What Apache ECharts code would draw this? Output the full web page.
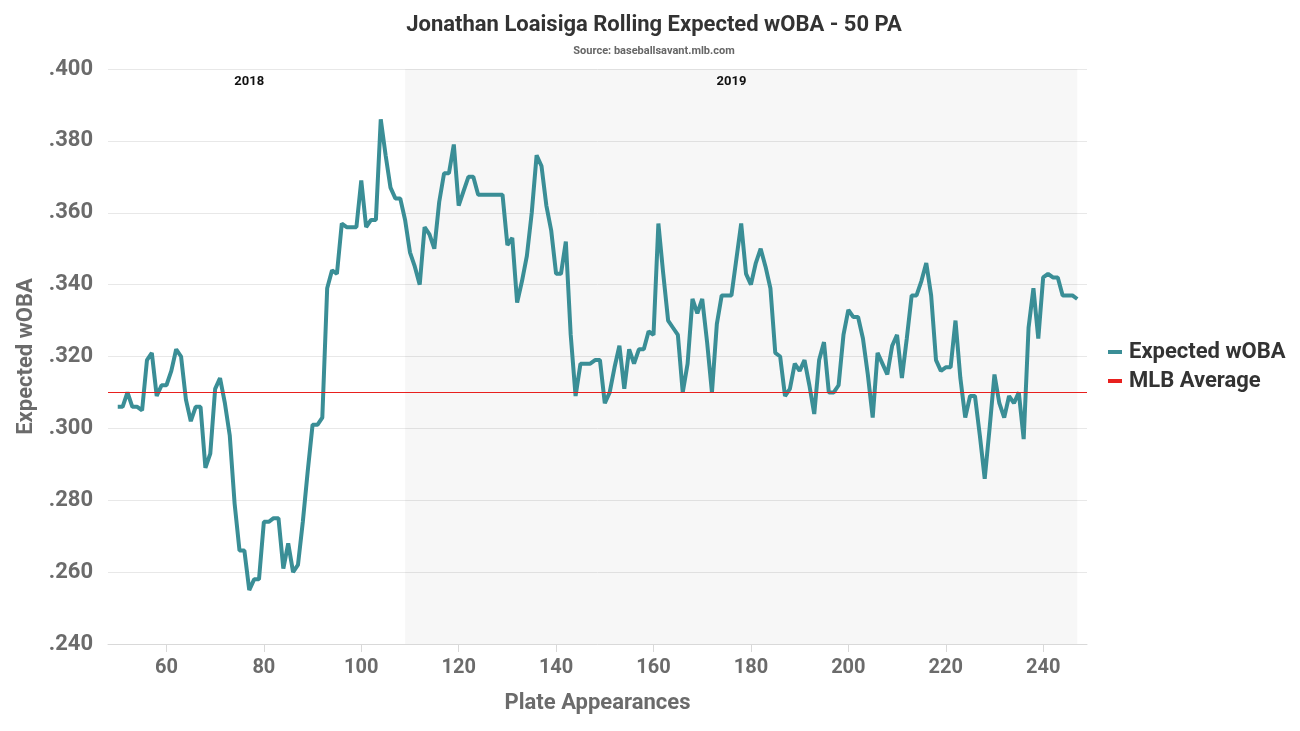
<!DOCTYPE html>
<html>
<head>
<meta charset="utf-8">
<script src="https://cdn.jsdelivr.net/npm/echarts@6/dist/echarts.min.js"></script>
<style>html,body{margin:0;padding:0;background:#fff}#c{width:1300px;height:731px}</style>
</head>
<body>
<div id="c"></div>
<script>
const plateAppearances = [];
for (let p = 50; p <= 247; p++) plateAppearances.push(p);
const expectedWoba = [
.306,.306,.310,.306,.306,.305,.319,.321,.309,.312,
.312,.316,.322,.320,.308,.302,.306,.306,.289,.293,
.311,.314,.307,.298,.279,.266,.266,.255,.258,.258,
.274,.274,.275,.275,.261,.268,.260,.262,.274,.288,
.301,.301,.303,.339,.344,.343,.357,.356,.356,.356,
.369,.356,.358,.358,.386,.376,.367,.364,.364,.358,
.349,.345,.340,.356,.354,.350,.363,.371,.371,.379,
.362,.366,.370,.370,.365,.365,.365,.365,.365,.365,
.351,.353,.335,.341,.348,.360,.376,.373,.362,.355,
.343,.343,.352,.326,.309,.318,.318,.318,.319,.319,
.307,.310,.317,.323,.311,.322,.318,.322,.322,.327,
.326,.357,.343,.330,.328,.326,.310,.318,.336,.332,
.336,.324,.310,.329,.337,.337,.337,.347,.357,.343,
.340,.346,.350,.345,.339,.321,.320,.309,.311,.318,
.316,.319,.312,.304,.319,.324,.310,.310,.312,.326,
.333,.331,.331,.325,.315,.303,.321,.318,.315,.323,
.326,.314,.325,.337,.337,.341,.346,.337,.319,.316,
.317,.317,.330,.314,.303,.309,.309,.298,.286,.300,
.315,.307,.303,.309,.307,.310,.297,.328,.339,.325,
.342,.343,.342,.342,.337,.337,.337,.336
];
const mlbAverage = 0.311;
const xTicks = [60, 80, 100, 120, 140, 160, 180, 200, 220, 240];
const seasons = ['2018', '2019'];
const season2018Range = [48, 106];
const season2019Range = [109, 247];
const season2019LabelRange = [105, 247];

const chart = echarts.init(document.getElementById('c'));
const gray = '#6b6b6b';
const font = 'Roboto';
chart.setOption({
  animation: false,
  backgroundColor: '#ffffff',
  title: {
    text: 'Jonathan Loaisiga Rolling Expected wOBA - 50 PA',
    subtext: 'Source: baseballsavant.mlb.com',
    left: 649, textAlign: 'center', top: 9,
    itemGap: 10,
    textStyle: { fontFamily: font, fontWeight: 'bold', fontSize: 22, color: '#333333' },
    subtextStyle: { fontFamily: font, fontWeight: 'bold', fontSize: 11, color: '#666666' }
  },
  legend: {
    orient: 'vertical', left: 1103, top: 336, itemGap: 7,
    icon: 'rect', itemWidth: 14, itemHeight: 4,
    textStyle: { fontFamily: font, fontWeight: 'bold', fontSize: 22, color: '#333333', padding: [0, 0, 0, 2] },
    data: ['Expected wOBA', 'MLB Average']
  },
  grid: { left: 108, right: 213, top: 69, bottom: 87, containLabel: false },
  xAxis: {
    type: 'value', min: 48, max: 249,
    name: 'Plate Appearances', nameLocation: 'middle', nameGap: 48,
    nameTextStyle: { fontFamily: font, fontWeight: 'bold', fontSize: 22, color: gray },
    axisLine: { show: true, lineStyle: { color: '#d9d9d9', width: 1 } },
    axisTick: { show: true, customValues: xTicks, length: 8, lineStyle: { color: '#d9d9d9' } },
    axisLabel: { customValues: xTicks, margin: 14, fontFamily: font, fontWeight: 'bold', fontSize: 20, color: gray },
    splitLine: { show: false }
  },
  yAxis: {
    type: 'value', min: 0.24, max: 0.40, interval: 0.02,
    name: 'Expected wOBA', nameLocation: 'middle', nameGap: 64, nameRotate: 90,
    nameTextStyle: { fontFamily: font, fontWeight: 'bold', fontSize: 22, color: gray },
    axisLine: { show: false }, axisTick: { show: false },
    axisLabel: {
      margin: 15, fontFamily: font, fontWeight: 'bold', fontSize: 22, color: gray,
      formatter: v => v.toFixed(3).replace(/^0/, '')
    },
    splitLine: { lineStyle: { color: '#e8e8e8', width: 1 } }
  },
  series: [
    {
      name: 'Expected wOBA', type: 'line', showSymbol: false, symbol: 'none',
      data: plateAppearances.map((p, i) => [p, expectedWoba[i]]),
      color: '#3a8e96',
      lineStyle: { color: '#3a8e96', width: 4 },
      z: 3,
      markArea: {
        silent: true,
        label: { position: 'insideTop', distance: 6, fontFamily: font, fontWeight: 'bold', fontSize: 13, color: '#111111' },
        data: [
          [{ name: seasons[0], xAxis: season2018Range[0], itemStyle: { color: 'rgba(0,0,0,0)' } }, { xAxis: season2018Range[1] }],
          [{ name: '', xAxis: season2019Range[0], itemStyle: { color: 'rgba(0,0,0,0.03)' } }, { xAxis: season2019Range[1] }],
          [{ name: seasons[1], xAxis: season2019LabelRange[0], itemStyle: { color: 'rgba(0,0,0,0)' } }, { xAxis: season2019LabelRange[1] }]
        ]
      }
    },
    {
      name: 'MLB Average', type: 'line', data: [], color: '#e8201e',
      lineStyle: { color: '#e8201e', width: 1.2 },
      markLine: {
        silent: true, symbol: 'none', label: { show: false },
        lineStyle: { color: '#e8201e', width: 1.2, type: 'solid' },
        data: [{ yAxis: mlbAverage }]
      }
    }
  ]
});
</script>
</body>
</html>
